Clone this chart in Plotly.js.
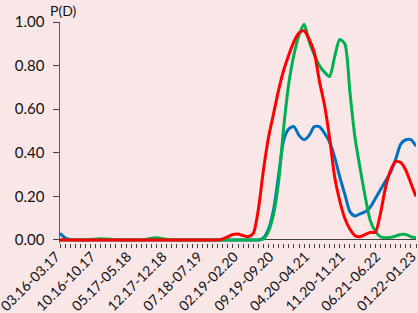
<!DOCTYPE html>
<html>
<head>
<meta charset="utf-8">
<script src="https://cdn.plot.ly/plotly-3.0.1.min.js"></script>
<style>html,body{margin:0;padding:0;background:#F9E6E7;}#chart{width:418px;height:313px;}</style>
</head>
<body>
<div id="chart"></div>
<script>
const categories = [
"03.16-03.17","04.16-04.17","05.16-05.17","06.16-06.17","07.16-07.17","08.16-08.17","09.16-09.17",
"10.16-10.17","11.16-11.17","12.16-12.17","01.17-01.18","02.17-02.18","03.17-03.18","04.17-04.18",
"05.17-05.18","06.17-06.18","07.17-07.18","08.17-08.18","09.17-09.18","10.17-10.18","11.17-11.18",
"12.17-12.18","01.18-01.19","02.18-02.19","03.18-03.19","04.18-04.19","05.18-05.19","06.18-06.19",
"07.18-07.19","08.18-08.19","09.18-09.19","10.18-10.19","11.18-11.19","12.18-12.19","01.19-01.20",
"02.19-02.20","03.19-03.20","04.19-04.20","05.19-05.20","06.19-06.20","07.19-07.20","08.19-08.20",
"09.19-09.20","10.19-10.20","11.19-11.20","12.19-12.20","01.20-01.21","02.20-02.21","03.20-03.21",
"04.20-04.21","05.20-05.21","06.20-06.21","07.20-07.21","08.20-08.21","09.20-09.21","10.20-10.21",
"11.20-11.21","12.20-12.21","01.21-01.22","02.21-02.22","03.21-03.22","04.21-04.22","05.21-05.22",
"06.21-06.22","07.21-07.22","08.21-08.22","09.21-09.22","10.21-10.22","11.21-11.22","12.21-12.22",
"01.22-01.23"
];
const labelEvery = 7;

const blueSeries = [
0.03,0.01,0.002,0,0,0,0,0,0,0,
0,0,0,0,0,0,0,0,0,0,
0,0,0,0,0,0,0,0,0,0,
0,0,0,0,0,0,0,0,0,0,
0.01,0.05,0.14,0.30,0.46,0.51,0.52,0.48,0.46,0.48,
0.52,0.52,0.49,0.45,0.38,0.29,0.21,0.13,0.11,0.12,
0.13,0.15,0.19,0.23,0.27,0.31,0.37,0.44,0.46,0.46,
0.43
];
const greenSeries = [
0,0,0,0,0,0,0.002,0.004,0.006,0.005,
0.003,0.001,0,0,0,0,0,0.003,0.008,0.01,
0.007,0.003,0,0,0,0,0,0,0,0,
0,0,0,0,0,0,0,0,0,0,
0.005,0.04,0.12,0.27,0.52,0.72,0.85,0.94,0.99,0.91,
0.85,0.80,0.77,0.75,0.84,0.92,0.90,0.68,0.47,0.33,
0.20,0.09,0.04,0.015,0.01,0.012,0.018,0.025,0.025,0.015,
0.01
];
const redSeries = [
0,0,0,0,0,0,0,0,0,0,
0,0,0,0,0,0,0,0,0,0,
0,0,0,0,0,0,0,0,0,0,
0,0,0.005,0.015,0.025,0.027,0.02,0.015,0.03,0.14,
0.32,0.47,0.58,0.69,0.78,0.85,0.91,0.95,0.96,0.92,
0.86,0.73,0.62,0.47,0.29,0.18,0.10,0.05,0.02,0.015,
0.025,0.035,0.035,0.12,0.24,0.32,0.36,0.355,0.32,0.26,
0.20
];
const yTickVals = [0,0.2,0.4,0.6,0.8,1.0];

const xIdx = categories.map((c,i)=>i);
const tickText = categories.map((c,i)=> i % labelEvery === 0 ? c : "");

function tr(y, color){
  return {x:xIdx, y:y, type:'scatter', mode:'lines',
    line:{color:color, width:3, shape:'spline', smoothing:0.7},
    hoverinfo:'skip', showlegend:false};
}

const data = [tr(blueSeries,'#0070C0'), tr(greenSeries,'#00B050'), tr(redSeries,'#FF0000')];

const layout = {
  width:418, height:313,
  margin:{l:60, r:2, t:22, b:70, pad:0},
  paper_bgcolor:'#F9E6E7', plot_bgcolor:'#F9E6E7',
  font:{family:'Lato, "Open Sans", sans-serif', size:13, color:'#111'},
  xaxis:{
    range:[-0.0001,70.0001], tickmode:'array', tickvals:xIdx, ticktext:tickText,
    tickangle:-45, ticks:'outside', ticklen:4, tickwidth:1, tickcolor:'#404040',
    showgrid:false, zeroline:false, showline:false, automargin:false,
    ticklabeloverflow:'allow', ticklabelstandoff:-5, ticklabelshift:-4,
    tickfont:{size:14, color:'#111'}, fixedrange:true
  },
  yaxis:{
    range:[-0.0138,1], tickmode:'array', tickvals:yTickVals, tickformat:'.2f',
    ticks:'outside', ticklen:6, tickwidth:1, tickcolor:'#404040', ticklabelstandoff:5,
    showline:true, linecolor:'#595959', linewidth:1.5,
    zeroline:true, zerolinecolor:'#404040', zerolinewidth:1,
    showgrid:false, tickfont:{size:15, color:'#111'}, fixedrange:true
  },
  annotations:[{text:'P(D)', xref:'paper', yref:'paper', x:0, y:1, xshift:3, yshift:12,
    xanchor:'center', yanchor:'middle', showarrow:false, font:{size:14, color:'#111'}}]
};

Plotly.newPlot('chart', data, layout, {staticPlot:true, displayModeBar:false});
</script>
</body>
</html>
